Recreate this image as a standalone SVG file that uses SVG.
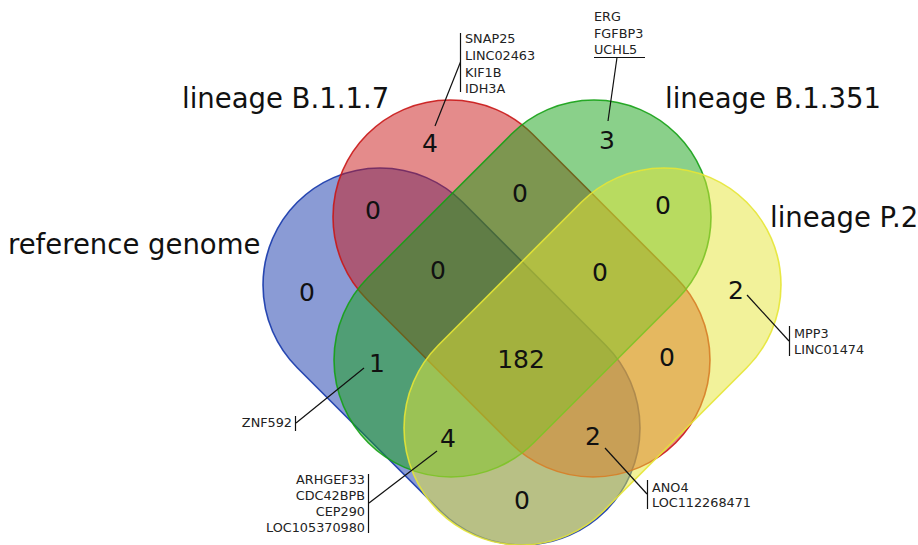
<svg xmlns="http://www.w3.org/2000/svg" width="918" height="545" viewBox="0 0 918 545">
<style>
.set{stroke-width:1.6;fill-opacity:0.5;stroke-opacity:0.9}
.num{font-family:"DejaVu Sans",sans-serif;font-size:25px;fill:#111;text-anchor:middle}
.lab{font-family:"DejaVu Sans",sans-serif;font-size:27.5px;fill:#111}
.gene{font-family:"DejaVu Sans",sans-serif;font-size:12.8px;fill:#222}
.gr{text-anchor:end}
.ln{stroke:#111;stroke-width:1.2;fill:none}
</style>
<rect width="918" height="545" fill="#fff"/>
<g id="set-reference">
<rect class="set" x="-218.1" y="-117" width="436.2" height="234" rx="117" transform="translate(451.5 356.5) rotate(45)" fill="rgb(21,55,171)" stroke="rgb(21,55,171)"/>
</g>
<g id="set-b117">
<rect class="set" x="-218.1" y="-117" width="436.2" height="234" rx="117" transform="translate(521.5 288.5) rotate(45)" fill="rgb(201,23,23)" stroke="rgb(201,23,23)"/>
</g>
<g id="set-b1351">
<rect class="set" x="-218.1" y="-117" width="436.2" height="234" rx="117" transform="translate(522.5 288.5) rotate(-45)" fill="rgb(21,161,21)" stroke="rgb(21,161,21)"/>
</g>
<g id="set-p2">
<rect class="set" x="-218.1" y="-117" width="436.2" height="234" rx="117" transform="translate(592.5 356.5) rotate(-45)" fill="rgb(229,229,53)" stroke="rgb(229,229,53)"/>
</g>
<g id="set-labels">
<text class="lab" x="182" y="108">lineage B.1.1.7</text>
<text class="lab" x="665" y="108">lineage B.1.351</text>
<text class="lab" x="8" y="254">reference genome</text>
<text class="lab" x="770" y="227">lineage P.2</text>
</g>
<g id="counts">
<text class="num" x="430" y="152">4</text>
<text class="num" x="607" y="149">3</text>
<text class="num" x="373" y="219">0</text>
<text class="num" x="520" y="202">0</text>
<text class="num" x="663" y="214">0</text>
<text class="num" x="307" y="301">0</text>
<text class="num" x="438" y="279">0</text>
<text class="num" x="600" y="281">0</text>
<text class="num" x="736" y="299">2</text>
<text class="num" x="377" y="372">1</text>
<text class="num" x="521" y="368">182</text>
<text class="num" x="667" y="366">0</text>
<text class="num" x="448" y="447">4</text>
<text class="num" x="593" y="445">2</text>
<text class="num" x="522" y="509">0</text>
</g>
<g id="connectors">
<line class="ln" x1="460.5" y1="33" x2="460.5" y2="92"/>
<line class="ln" x1="460.5" y1="62" x2="435" y2="126"/>
<line class="ln" x1="594" y1="57.5" x2="645" y2="57.5"/>
<line class="ln" x1="617" y1="57.5" x2="608" y2="121"/>
<line class="ln" x1="295.5" y1="416" x2="295.5" y2="431"/>
<line class="ln" x1="296" y1="423" x2="364" y2="368"/>
<line class="ln" x1="368.5" y1="474" x2="368.5" y2="533"/>
<line class="ln" x1="369" y1="503" x2="437" y2="451"/>
<line class="ln" x1="647.5" y1="480" x2="647.5" y2="509"/>
<line class="ln" x1="647" y1="494" x2="605" y2="448"/>
<line class="ln" x1="789.5" y1="326" x2="789.5" y2="356"/>
<line class="ln" x1="789" y1="341" x2="747" y2="295"/>
</g>
<g id="gene-labels">
<text class="gene" x="465" y="43">SNAP25</text>
<text class="gene" x="465" y="60">LINC02463</text>
<text class="gene" x="465" y="76.5">KIF1B</text>
<text class="gene" x="465" y="93">IDH3A</text>
<text class="gene" x="594" y="21">ERG</text>
<text class="gene" x="594" y="37.5">FGFBP3</text>
<text class="gene" x="594" y="54">UCHL5</text>
<text class="gene gr" x="292" y="427">ZNF592</text>
<text class="gene gr" x="365" y="484">ARHGEF33</text>
<text class="gene gr" x="365" y="500">CDC42BPB</text>
<text class="gene gr" x="365" y="516">CEP290</text>
<text class="gene gr" x="365" y="532">LOC105370980</text>
<text class="gene" x="652" y="492">ANO4</text>
<text class="gene" x="652" y="507">LOC112268471</text>
<text class="gene" x="794" y="338">MPP3</text>
<text class="gene" x="794" y="354">LINC01474</text>
</g>
</svg>
